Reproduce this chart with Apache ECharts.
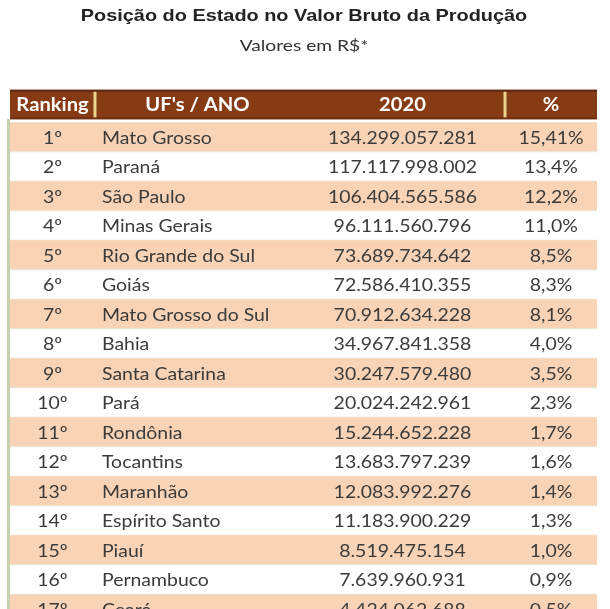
<!DOCTYPE html>
<html>
<head>
<meta charset="utf-8">
<script src="https://cdn.jsdelivr.net/npm/echarts@6/dist/echarts.min.js"></script>
<style>
  html, body { margin: 0; padding: 0; background: #fff; }
  #tabela { width: 610px; height: 609px; }
</style>
</head>
<body>
<div id="tabela"></div>
<script>
// dados da tabela
var headers = ['Ranking', "UF's / ANO", '2020', '%'];
var rankings = ['1º', '2º', '3º', '4º', '5º', '6º', '7º', '8º', '9º', '10º', '11º', '12º', '13º', '14º', '15º', '16º', '17º'];
var states = ['Mato Grosso', 'Paraná', 'São Paulo', 'Minas Gerais', 'Rio Grande do Sul', 'Goiás', 'Mato Grosso do Sul', 'Bahia', 'Santa Catarina', 'Pará', 'Rondônia', 'Tocantins', 'Maranhão', 'Espírito Santo', 'Piauí', 'Pernambuco', 'Ceará'];
var values2020 = [134299057281, 117117998002, 106404565586, 96111560796, 73689734642, 72586410355, 70912634228, 34967841358, 30247579480, 20024242961, 15244652228, 13683797239, 12083992276, 11183900229, 8519475154, 7639960931, 4424062688];
var shares = ['15,41%', '13,4%', '12,2%', '11,0%', '8,5%', '8,3%', '8,1%', '4,0%', '3,5%', '2,3%', '1,7%', '1,6%', '1,4%', '1,3%', '1,0%', '0,9%', '0,5%'];

// layout das colunas (em px do grid)
var colEdges = [0, 85, 290, 495, 587];
var HEAD_TOP = -1.1, HEAD_BOTTOM = -0.1;

function fmt(n) {
    return String(n).replace(/\B(?=(\d{3})+(?!\d))/g, '.');
}
function mid(c) { return (colEdges[c] + colEdges[c + 1]) / 2; }

var tableFont = 'Lato';
var textColor = '#3b3b3b';
var stretch = 1.08; // a imagem original parece esticada na horizontal

function renderHeader(params, api) {
    var tl = api.coord([colEdges[0], HEAD_TOP]);
    var br = api.coord([colEdges[4], HEAD_BOTTOM]);
    var children = [
        { type: 'rect', shape: { x: tl[0], y: tl[1], width: br[0] - tl[0], height: br[1] - tl[1] },
          style: { fill: '#873b14' } },
        { type: 'rect', shape: { x: tl[0], y: tl[1], width: br[0] - tl[0], height: 2 },
          style: { fill: '#5c2a0e' } },
        { type: 'rect', shape: { x: tl[0], y: br[1] - 2, width: br[0] - tl[0], height: 2 },
          style: { fill: '#6e3010' } }
    ];
    [1, 3].forEach(function (c) {
        var p = api.coord([colEdges[c], 0]);
        children.push({ type: 'rect', shape: { x: p[0] - 1.5, y: tl[1] + 2, width: 3, height: br[1] - tl[1] - 4 },
            style: { fill: '#e9d58c' } });
    });
    headers.forEach(function (h, c) {
        var p = api.coord([mid(c), (HEAD_TOP + HEAD_BOTTOM) / 2]);
        children.push({ type: 'text', x: p[0], y: p[1] + 1, scaleX: 1.12,
            style: { text: h, fill: '#ffffff', font: 'bold 18px ' + tableFont, align: 'center', verticalAlign: 'middle' } });
    });
    return { type: 'group', children: children };
}

function renderRow(params, api) {
    var i = api.value(0);
    var tl = api.coord([colEdges[0], i]);
    var br = api.coord([colEdges[4], i + 1]);
    var cy = (tl[1] + br[1]) / 2 + 1;
    var children = [];
    if (i % 2 === 0) {
        children.push({ type: 'rect', shape: { x: tl[0], y: tl[1], width: br[0] - tl[0], height: br[1] - tl[1] },
            style: { fill: '#f8d3b6' } });
    }
    children.push({ type: 'rect', shape: { x: tl[0], y: br[1] - 0.5, width: br[0] - tl[0], height: 1 },
        style: { fill: '#e6ead9' } });
    var xr = api.coord([mid(0), i])[0];
    var xs = api.coord([colEdges[1] + 7, i])[0];
    var xv = api.coord([mid(2), i])[0];
    var xp = api.coord([mid(3), i])[0];
    var base = { fill: textColor, font: '18px ' + tableFont, verticalAlign: 'middle' };
    [
        [xr, rankings[i], 'center'],
        [xs, states[i], 'left'],
        [xv, fmt(values2020[i]), 'center'],
        [xp, shares[i], 'center']
    ].forEach(function (t) {
        children.push({ type: 'text', x: t[0], y: cy, scaleX: stretch,
            style: Object.assign({ text: t[1], align: t[2] }, base) });
    });
    return { type: 'group', children: children };
}

var chart = echarts.init(document.getElementById('tabela'));
chart.setOption({
    backgroundColor: '#ffffff',
    animation: false,
    grid: { left: 10, width: 587, top: 89.8, height: 519.2 },
    xAxis: { type: 'value', min: 0, max: 587, show: false },
    yAxis: { type: 'value', min: HEAD_TOP, max: 16.5, inverse: true, show: false },
    graphic: [
        { type: 'text', x: 304, y: 16, scaleX: 1.17, silent: true,
          style: { text: 'Posição do Estado no Valor Bruto da Produção', font: 'bold 17px "Liberation Sans"',
                   fill: '#222', align: 'center', verticalAlign: 'middle' } },
        { type: 'text', x: 304, y: 46, scaleX: 1.2, silent: true,
          style: { text: 'Valores em R$*', font: '16px ' + tableFont,
                   fill: '#333', align: 'center', verticalAlign: 'middle' } },
        { type: 'rect', x: 7, y: 119, shape: { width: 3, height: 500 },
          style: { fill: '#c6d1ae' }, silent: true }
    ],
    series: [
        { type: 'custom', renderItem: renderHeader, data: [[HEAD_TOP]], silent: true },
        { type: 'custom', renderItem: renderRow, data: states.map(function (s, i) { return [i]; }), silent: true }
    ]
});
</script>
</body>
</html>
